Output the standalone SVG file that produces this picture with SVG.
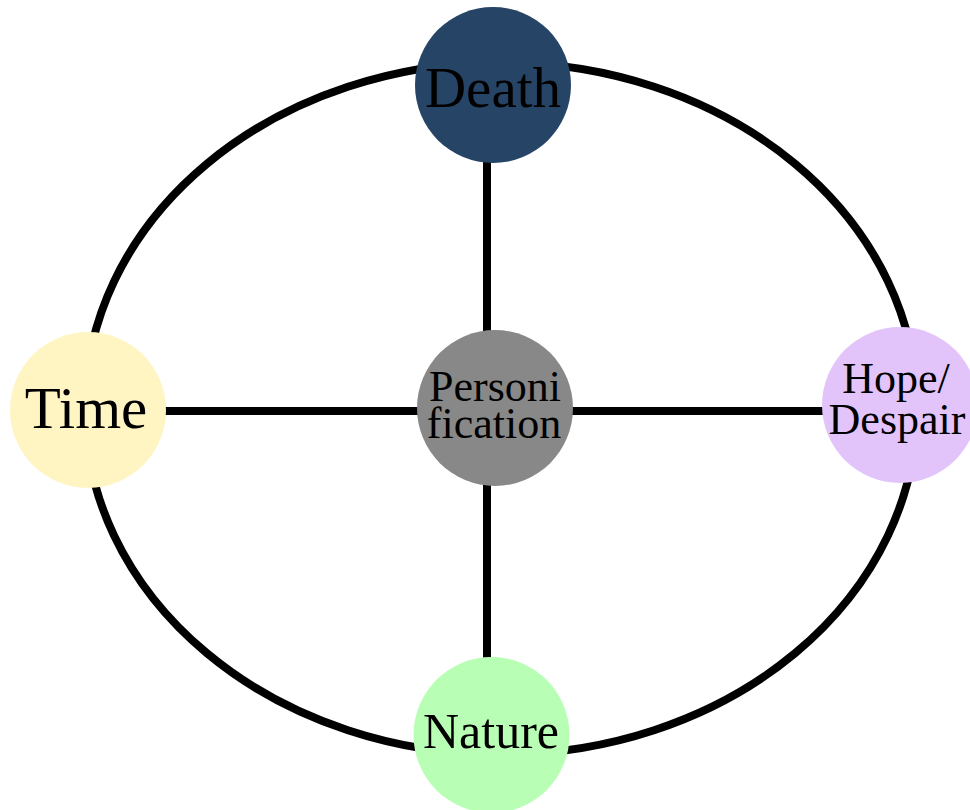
<svg xmlns="http://www.w3.org/2000/svg" width="970" height="810" viewBox="0 0 970 810">
<style>
.edge{stroke:#000;stroke-width:8;fill:none}
.lbl{font-family:"Liberation Serif","Times New Roman",serif;fill:#000;text-anchor:middle}
</style>
<rect width="970" height="810" fill="#fff"/>
<g id="connectors">
<ellipse class="edge" cx="501" cy="408.5" rx="416" ry="346"/>
<line class="edge" x1="487" y1="160" x2="487" y2="660"/>
<line class="edge" x1="160" y1="411" x2="825" y2="411"/>
</g>
<g id="death">
<circle cx="493" cy="85" r="78" fill="#264465"/>
<text class="lbl" x="493" y="107" font-size="57">Death</text>
</g>
<g id="time">
<circle cx="88" cy="410" r="78" fill="#FFF5C2"/>
<text class="lbl" x="86" y="428" font-size="59">Time</text>
</g>
<g id="hope">
<circle cx="900" cy="405" r="78" fill="#E2C4FB"/>
<text class="lbl" x="896" y="393" font-size="44">Hope/</text>
<text class="lbl" x="897" y="434" font-size="44">Despair</text>
</g>
<g id="nature">
<circle cx="491.5" cy="735" r="78" fill="#B8FFB5"/>
<text class="lbl" x="491" y="748" font-size="50">Nature</text>
</g>
<g id="personification">
<circle cx="495" cy="408" r="78" fill="#888888"/>
<text class="lbl" x="495" y="401" font-size="44">Personi</text>
<text class="lbl" x="494" y="438" font-size="44">fication</text>
</g>
</svg>
